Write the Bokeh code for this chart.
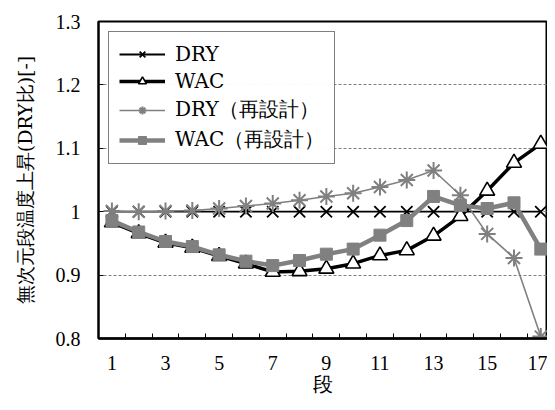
from bokeh.plotting import figure
from bokeh.models import (FixedTicker, NumeralTickFormatter, Legend, LegendItem,
                          Range1d, ColumnDataSource)
from bokeh.embed import file_html
from bokeh.resources import INLINE

# ---- data ----
stages = [1, 2, 3, 4, 5, 6, 7, 8, 9, 10, 11, 12, 13, 14, 15, 16, 17]
dry = [1.0, 1.0, 1.0, 1.0, 1.0, 1.0, 1.0, 1.0, 1.0, 1.0, 1.0, 1.0, 1.0, 1.0, 1.0, 1.0, 1.0]
wac = [0.983, 0.966, 0.951, 0.943, 0.930, 0.918, 0.905, 0.906, 0.910, 0.918,
       0.931, 0.939, 0.962, 0.993, 1.033, 1.077, 1.107]
dry_re = [1.001, 1.000, 1.001, 1.002, 1.005, 1.009, 1.013, 1.018, 1.024, 1.029,
          1.039, 1.050, 1.065, 1.026, 0.965, 0.927, 0.803]
wac_re = [0.986, 0.968, 0.953, 0.945, 0.932, 0.922, 0.915, 0.923, 0.933, 0.941,
          0.963, 0.986, 1.024, 1.010, 1.005, 1.014, 0.941]
series_names = ["DRY", "WAC", "DRY（再設計）", "WAC（再設計）"]
x_label_ticks = [1, 3, 5, 7, 9, 11, 13, 15, 17]
x_boundaries = [1.5, 2.5, 3.5, 4.5, 5.5, 6.5, 7.5, 8.5, 9.5, 10.5, 11.5, 12.5,
                13.5, 14.5, 15.5, 16.5]
y_ticks = [0.8, 0.9, 1.0, 1.1, 1.2, 1.3]
x_title = "段"
y_title = "無次元段温度上昇(DRY比)[-]"

src = ColumnDataSource(dict(x=stages, dry=dry, wac=wac, dry_re=dry_re, wac_re=wac_re))

SERIF = "Liberation Serif"
SERIF2 = "DejaVu Serif"
GRAY = "#808080"

p = figure(width=547, height=402, output_backend="svg", toolbar_location=None,
           x_range=Range1d(0.5, 17.25), y_range=Range1d(0.8, 1.3),
           min_border_left=98, min_border_right=0, min_border_top=21,
           min_border_bottom=64)
p.background_fill_color = "white"
p.border_fill_color = "white"
p.outline_line_color = "black"
p.outline_line_width = 2

# x axis
xa = p.xaxis[0]
xa.ticker = FixedTicker(ticks=x_label_ticks, minor_ticks=x_boundaries)
xa.major_tick_in = 0
xa.major_tick_out = 0
xa.minor_tick_in = 5
xa.minor_tick_out = 0
xa.minor_tick_line_color = "black"
xa.axis_line_width = 2.5
xa.axis_line_color = "black"
xa.major_label_text_font = SERIF
xa.major_label_text_font_size = "20px"
xa.major_label_text_color = "black"
xa.major_label_standoff = 17
xa.axis_label = x_title
xa.axis_label_text_font = SERIF
xa.axis_label_text_font_style = "normal"
xa.axis_label_text_font_size = "20px"
xa.axis_label_text_color = "black"
xa.axis_label_standoff = 0

# y axis
ya = p.yaxis[0]
ya.ticker = FixedTicker(ticks=y_ticks)
ya.formatter = NumeralTickFormatter(format="0.[0]")
ya.major_tick_in = 5
ya.major_tick_out = 0
ya.major_tick_line_color = "black"
ya.minor_tick_in = 0
ya.minor_tick_out = 0
ya.axis_line_width = 2
ya.axis_line_color = "black"
ya.major_label_text_font = SERIF
ya.major_label_text_font_size = "20px"
ya.major_label_text_color = "black"
ya.major_label_standoff = 18
ya.axis_label = y_title
ya.axis_label_text_font = SERIF2
ya.axis_label_text_font_style = "normal"
ya.axis_label_text_font_size = "19px"
ya.axis_label_text_color = "black"
ya.axis_label_standoff = 17

p.xgrid.visible = False
p.ygrid.ticker = FixedTicker(ticks=y_ticks)
p.ygrid.grid_line_color = GRAY
p.ygrid.grid_line_dash = "3 2"
p.ygrid.grid_line_width = 1

# series
l1 = p.line("x", "dry", source=src, line_color="black", line_width=1.8)
m1 = p.scatter("x", "dry", source=src, marker="x", size=16, line_color="black", line_width=1.8)
l2 = p.line("x", "wac", source=src, line_color="black", line_width=3.5)
m2 = p.scatter("x", "wac", source=src, marker="triangle", size=15, fill_color="white",
               line_color="black", line_width=1.6)
l3 = p.line("x", "dry_re", source=src, line_color=GRAY, line_width=1.6)
m3 = p.scatter("x", "dry_re", source=src, marker="asterisk", size=17, line_color=GRAY,
               line_width=2)
l4 = p.line("x", "wac_re", source=src, line_color=GRAY, line_width=4.5)
m4 = p.scatter("x", "wac_re", source=src, marker="square", size=12, fill_color=GRAY,
               line_color=GRAY, line_width=1)

legend = Legend(items=[
    LegendItem(label=series_names[0], renderers=[l1, m1]),
    LegendItem(label=series_names[1], renderers=[l2, m2]),
    LegendItem(label=series_names[2], renderers=[l3, m3]),
    LegendItem(label=series_names[3], renderers=[l4, m4]),
], location="top_left")
legend.margin = 10
legend.padding = 10
legend.spacing = 3
legend.glyph_width = 46
legend.glyph_height = 20
legend.label_height = 20
legend.label_standoff = 10
legend.label_text_font = SERIF2
legend.label_text_font_size = "20px"
legend.label_text_color = "black"
legend.border_line_color = "black"
legend.border_line_width = 1.5
legend.background_fill_color = "white"
p.add_layout(legend)

open("out.html", "w").write(file_html(p, INLINE))
